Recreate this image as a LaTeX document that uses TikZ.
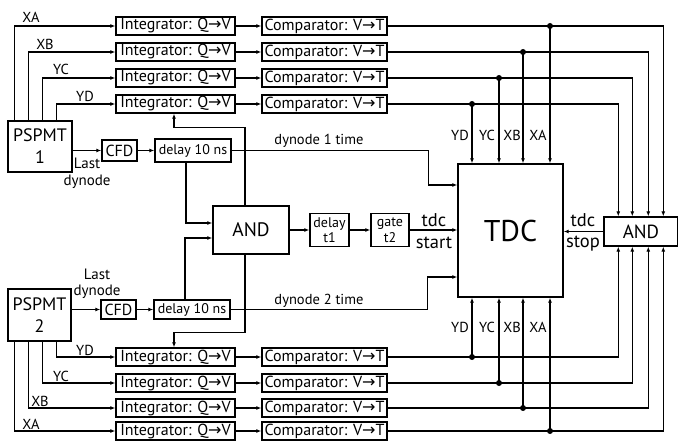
\documentclass[tikz,border=0pt]{standalone}
\usepackage{fontspec}
\setmainfont{PT Sans}
\newfontfamily\symf{DejaVu Sans}
\usetikzlibrary{arrows.meta,calc}
\newcommand{\myarr}{{\symf\char"2192}}
\begin{document}
\begin{tikzpicture}[x=1pt,y=-1pt,
  box/.style={draw, line width=1.4pt, inner sep=0pt, align=center},
  ln/.style={line width=1.2pt},
  arr/.style={ln, -{Latex[length=5pt,width=4pt]}},
  lbl/.style={font=\fontsize{14.5}{14.5}\selectfont, inner sep=0pt},
  big/.style={lbl, font=\fontsize{18.5}{18.5}\selectfont},
  integ/.style={box, minimum width=119pt, minimum height=18pt, font=\fontsize{16}{16}\selectfont},
  comp/.style={box, minimum width=125pt, minimum height=18pt, font=\fontsize{16}{16}\selectfont},
  small/.style={box, font=\fontsize{14}{15.5}\selectfont},
  dot/.style={circle, fill, inner sep=0pt, minimum size=6pt}]
\useasboundingbox (0,0) rectangle (678,441);
\fill[white] (0,0) rectangle (678,441);

% PSPMT boxes
\node[box, minimum width=64pt, minimum height=51pt, font=\fontsize{18}{22}\selectfont] (ps1) at (40,146.5) {PSPMT\\1};
\node[box, minimum width=63pt, minimum height=52pt, font=\fontsize{18}{22}\selectfont] (ps2) at (39.5,315) {PSPMT\\2};

% integrator / comparator rows
\foreach \i/\y in {1/26,2/52,3/78,4/104}{
  \node[integ] (it\i) at (175.5,\y) {Integrator: Q\myarr V};
  \node[comp] (ct\i) at (324.5,\y) {Comparator: V\myarr T};
  \draw[arr] (it\i.east) -- (ct\i.west);
}
\foreach \i/\y in {1/357,2/383,3/408,4/431}{
  \node[integ] (ib\i) at (175.5,\y) {Integrator: Q\myarr V};
  \node[comp] (cb\i) at (324.5,\y) {Comparator: V\myarr T};
  \draw[arr] (ib\i.east) -- (cb\i.west);
}

% main blocks
\node[box, minimum width=105pt, minimum height=133pt, font=\fontsize{30}{30}\selectfont] (tdc) at (510.5,230.5) {TDC};
\node[box, minimum width=74pt, minimum height=29pt, font=\fontsize{19}{19}\selectfont] (andr) at (641,231.5) {AND};
\node[box, minimum width=76pt, minimum height=48pt, font=\fontsize{19.5}{19.5}\selectfont] (andc) at (251,230) {AND};
\node[small, minimum width=39pt, minimum height=33pt] (dt1) at (329.5,230) {delay\\t1};
\node[small, minimum width=38pt, minimum height=33pt] (gate) at (390,230) {gate\\t2};
\node[small, minimum width=35pt, minimum height=21pt, font=\fontsize{16}{16}\selectfont] (cfd1) at (119.5,150.5) {CFD};
\node[small, minimum width=76pt, minimum height=23pt] (dl1) at (193,150.5) {delay 10 ns};
\node[small, minimum width=35pt, minimum height=19pt, font=\fontsize{16}{16}\selectfont] (cfd2) at (118.5,309.5) {CFD};
\node[small, minimum width=76pt, minimum height=19pt] (dl2) at (192,309.5) {delay 10 ns};

% PSPMT1 outputs
\draw[arr] ([xshift=7pt]ps1.north west) |- (it1.west);
\draw[arr] ([xshift=21pt]ps1.north west) |- (it2.west);
\draw[arr] ([xshift=35pt]ps1.north west) |- (it3.west);
\draw[arr] ([xshift=49pt]ps1.north west) |- (it4.west);
\node[lbl] (lxa1) at (31,17) {XA};
\node[lbl] (lxb1) at (45,44) {XB};
\node[lbl] (lyc1) at (61,69) {YC};
\node[lbl] (lyd1) at (85,96) {YD};

% PSPMT2 outputs
\draw[arr] ([xshift=7pt]ps2.south west) |- (ib4.west);
\draw[arr] ([xshift=21pt]ps2.south west) |- (ib3.west);
\draw[arr] ([xshift=35pt]ps2.south west) |- (ib2.west);
\draw[arr] ([xshift=49pt]ps2.south west) |- (ib1.west);
\node[lbl] (lyd2) at (85,350) {YD};
\node[lbl] (lyc2) at (61,376) {YC};
\node[lbl] (lxb2) at (40,401) {XB};
\node[lbl] (lxa2) at (31,424) {XA};

% dynode chains
\draw[arr] (ps1.east |- cfd1.west) -- (cfd1.west);
\draw[arr] (cfd1.east) -- (dl1.west);
\draw[arr] (ps2.east |- cfd2.west) -- (cfd2.west);
\draw[arr] (cfd2.east) -- (dl2.west);
\node[lbl, font=\fontsize{15}{15}\selectfont] (last1) at (87,163) {Last};
\node[lbl, font=\fontsize{15}{15}\selectfont] (dyn1) at (87,182) {dynode};
\node[lbl, font=\fontsize{15}{15}\selectfont] (last2) at (97,274) {Last};
\node[lbl, font=\fontsize{15}{15}\selectfont] (dyn2) at (97,292) {dynode};

% delays to AND
\draw[arr] ($(dl1.south)+(-7,0)$) |- ($(andc.west)+(0,-7)$);
\draw[arr] ($(dl2.north)+(-7,0)$) |- ($(andc.west)+(0,8)$);

% AND to integrators (gates)
\draw[arr] ($(andc.north)+(-6,0)$) -- ++(0,-78) -| ($(it4.south)+(-1.5,0)$);
\draw[arr] ($(andc.south)+(-6,0)$) -- ++(0,78) -| ($(ib1.north)+(-1.5,0)$);

% AND -> delay t1 -> gate -> TDC
\draw[arr] (andc.east) -- (dt1.west);
\draw[arr] (dt1.east) -- (gate.west);
\draw[arr] (gate.east) -- (tdc.west |- gate.east);
\node[big] (tstart1) at (434,220) {tdc};
\node[big] (tstart2) at (434,243) {start};

% AND right -> TDC stop
\draw[arr] (andr.west) -- (tdc.east |- andr.west);
\node[big] (tstop1) at (583,220) {tdc};
\node[big] (tstop2) at (583,244) {stop};

% dynode times
\draw[arr] (dl1.east) -- ++(197,0) |- ($(tdc.west)+(0,-45.5)$);
\node[lbl] (dt1lbl) at (319,141) {dynode 1 time};
\draw[arr] (dl2.east) -- ++(197,0) |- ($(tdc.west)+(0,46.5)$);
\node[lbl] (dt2lbl) at (319,301) {dynode 2 time};

% comparator outputs, top
\draw[arr] (ct1.east) -| ([xshift=60pt]andr.north west);
\draw[arr] (ct2.east) -| ([xshift=45pt]andr.north west);
\draw[arr] (ct3.east) -| ([xshift=29pt]andr.north west);
\draw[arr] (ct4.east) -| ([xshift=15pt]andr.north west);
\node[dot] (dta) at (550,26) {};
\node[dot] (dtb) at (523,52) {};
\node[dot] (dtc) at (499,78) {};
\node[dot] (dtd) at (472,104) {};
\foreach \d in {dta,dtb,dtc,dtd}{ \draw[arr] (\d.center) -- (\d |- tdc.north); }
\node[lbl] (tyd) at (460,135) {YD};
\node[lbl] (tyc) at (487,135) {YC};
\node[lbl] (txb) at (512,135) {XB};
\node[lbl] (txa) at (538,135) {XA};

% comparator outputs, bottom
\draw[arr] (cb1.east) -| ([xshift=15pt]andr.south west);
\draw[arr] (cb2.east) -| ([xshift=29pt]andr.south west);
\draw[arr] (cb3.east) -| ([xshift=45pt]andr.south west);
\draw[arr] (cb4.east) -| ([xshift=60pt]andr.south west);
\node[dot] (dbd) at (472,357) {};
\node[dot] (dbc) at (499,383) {};
\node[dot] (dbb) at (523,408) {};
\node[dot] (dba) at (550,431) {};
\foreach \d in {dba,dbb,dbc,dbd}{ \draw[arr] (\d.center) -- (\d |- tdc.south); }
\node[lbl] (byd) at (460,327) {YD};
\node[lbl] (byc) at (487,327) {YC};
\node[lbl] (bxb) at (512,327) {XB};
\node[lbl] (bxa) at (538,327) {XA};
\end{tikzpicture}
\end{document}
